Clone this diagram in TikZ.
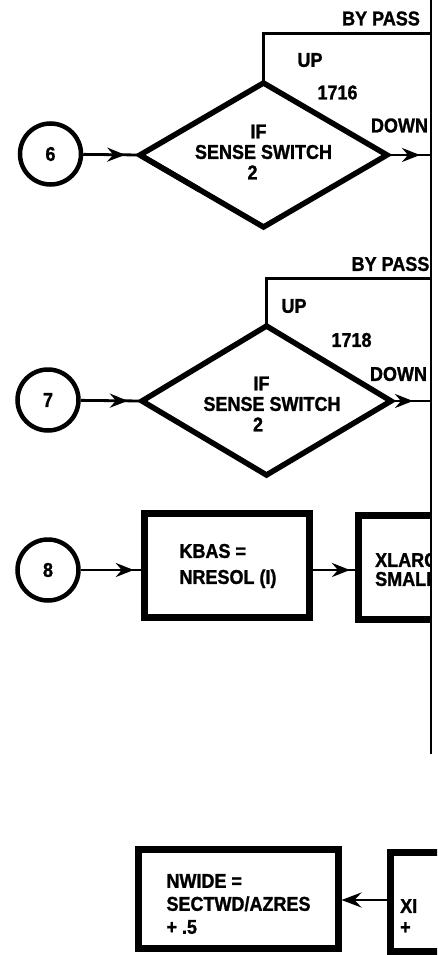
\documentclass[tikz,border=0pt]{standalone}
\usepackage{fontspec}
\setmainfont{Liberation Sans}[BoldFeatures={FakeStretch=0.9,FakeBold=1.2}]
\usetikzlibrary{arrows.meta,decorations.markings,calc}
\begin{document}
\begin{tikzpicture}[x=1pt,y=-1pt,
  every node/.style={inner sep=0pt},
  lbl/.style={font=\bfseries\fontsize{20}{20.5}\selectfont},
  circnode/.style={circle, draw, line width=4.5pt, minimum size=61pt, lbl},
  boxnode/.style={draw, line width=7pt},
  diaedge/.style={line width=5.5pt, line join=miter},
  bypass/.style={line width=3pt},
  conn/.style={line width=2.8pt},
  headat/.style={postaction={decorate},
    decoration={markings, mark=at position #1 with {\arrow{Stealth[length=18pt,width=14pt,inset=6pt]}}}},
  endhead/.style={-{Stealth[length=20pt,width=15pt,inset=7pt]}}
]
\useasboundingbox (0,0) rectangle (437,955);

\begin{scope}
\clip (0,0) -- (430,0) -- (430,756) -- (437,756) -- (437,955) -- (0,955) -- cycle;

% ---------- block 1 ----------
\node[circnode] (c6) at (50.5,154) {6};
\coordinate (d1w) at (140,155);
\coordinate (d1n) at (263.5,83);
\coordinate (d1e) at (387,155);
\coordinate (d1s) at (263.5,227);
\draw[diaedge] (d1w) -- ($(d1w)!0.485!(d1s)$);
\draw[diaedge] ($(d1w)!0.565!(d1s)$) -- (d1s) -- (d1e) -- (d1n) -- (d1w) -- cycle;
\node[lbl, align=center] (t1) at (263.5,152) {IF\hspace*{10pt}\\SENSE SWITCH\\2\hspace*{22pt}};
\draw[conn, headat=0.74] (c6) -- (d1w);
\coordinate (bp1) at (431,33.5);
\draw[bypass] (d1n) |- (bp1);
\coordinate (dn1) at (431,155);
\draw[conn, headat=0.75] (d1e) -- (dn1);
\node[lbl] (bypassA) at (381,18.5) {BY PASS};
\node[lbl] (upA) at (310,60) {UP};
\node[lbl] (numA) at (337.5,92.5) {1716};
\node[lbl] (downA) at (399.5,125.5) {DOWN};

% ---------- block 2 ----------
\node[circnode] (c7) at (48,400) {7};
\coordinate (d2w) at (142,401);
\coordinate (d2n) at (266.5,326);
\coordinate (d2e) at (391,401);
\coordinate (d2s) at (266.5,475);
\draw[diaedge] (d2w) -- (d2n) -- (d2e) -- (d2s) -- cycle;
\node[lbl, align=center] (t2) at (272,404) {IF\hspace*{21pt}\\SENSE SWITCH\\2\hspace*{28pt}};
\draw[conn, headat=0.77] (c7) -- (d2w);
\coordinate (bp2) at (431,278);
\draw[bypass] (d2n) |- (bp2);
\coordinate (dn2) at (431,401);
\draw[conn, headat=0.55] (d2e) -- (dn2);
\node[lbl] (bypassB) at (390.5,264) {BY PASS};
\node[lbl] (upB) at (294,306) {UP};
\node[lbl] (numB) at (351.5,340) {1718};
\node[lbl] (downB) at (398.5,374) {DOWN};

% ---------- block 3 ----------
\node[circnode] (c8) at (48,570) {8};
\node[boxnode, minimum width=165pt, minimum height=104pt] (box1) at (227,565.5) {};
\node[lbl, align=left, font=\bfseries\fontsize{20}{26}\selectfont] (box1txt) at (228,566) {KBAS =\\NRESOL (I)};
\node[boxnode, minimum width=165pt, minimum height=104pt] (box2) at (441,567.5) {};
\node[lbl, align=left, anchor=west, font=\bfseries\fontsize{20}{19}\selectfont] (box2txt) at (375,569.5) {XLARG\\SMALL};
\draw[conn, headat=0.88] (c8) -- (box1.west |- c8);
\draw[conn, headat=0.88] (box1.east |- c8) -- (box2.west |- c8);

% ---------- block 4 ----------
\node[boxnode, minimum width=199.5pt, minimum height=99pt] (box3) at (238.25,899) {};
\node[lbl, align=left, font=\bfseries\fontsize{20}{23}\selectfont] (box3txt) at (238.5,904) {NWIDE =\\SECTWD/AZRES\\+ .5};
\node[boxnode, minimum width=120pt, minimum height=98.5pt] (box4) at (450,902) {};
\node[lbl, align=left, anchor=west, font=\bfseries\fontsize{20}{21}\selectfont] (box4txt) at (400,916.5) {XI\\+};
\coordinate (row4) at (0,900);
\draw[conn, endhead] (box4.west |- row4) -- (box3.east |- row4);
\end{scope}

% ---------- page edge line ----------
\coordinate (edgetop) at (431,0);
\coordinate (edgebot) at (431,754);
\draw[line width=2pt] (edgetop) -- (edgebot);
\end{tikzpicture}
\end{document}
